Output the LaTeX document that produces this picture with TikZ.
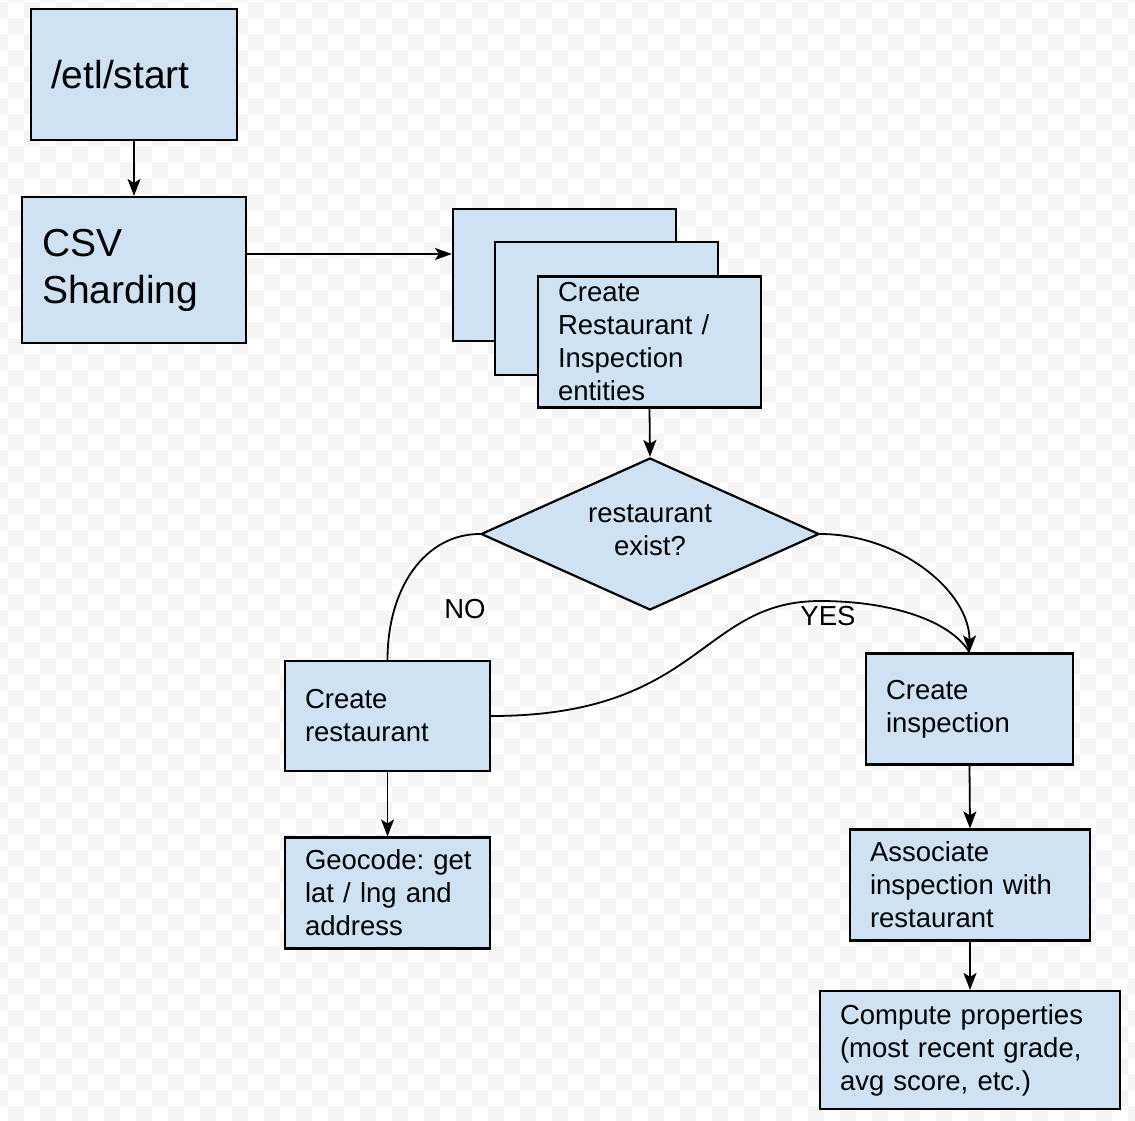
\documentclass[tikz,border=0pt]{standalone}
\usepackage{fontspec}
\setmainfont{Liberation Sans}
\usetikzlibrary{shapes.geometric,arrows.meta}
\definecolor{boxfill}{HTML}{CFE2F3}
\definecolor{checker}{HTML}{F4F4F4}
\begin{document}
\begin{tikzpicture}[x=1pt,y=-1pt,
  box/.style={draw=black, line width=2.2pt, fill=boxfill, rectangle, align=left,
    inner xsep=20pt, inner ysep=0pt, font=\fontsize{27.5}{33}\selectfont},
  bigbox/.style={box, font=\fontsize{39}{47}\selectfont},
  conn/.style={line width=1.8pt, -{Stealth[length=17pt,width=13pt,inset=4pt]}},
  thinconn/.style={line width=1.3pt, -{Stealth[length=17pt,width=12pt,inset=4pt]}},
  curve/.style={line width=1.8pt},
  lbl/.style={font=\fontsize{27.5}{33}\selectfont, inner sep=0pt}]
\useasboundingbox (0,0) rectangle (1135,1120);
% checkerboard background
\begin{scope}
  \clip (0,0) rectangle (1135,1120);
  \fill[white] (0,0) rectangle (1135,1120);
  \foreach \i in {0,...,71}{\foreach \j in {0,...,70}{%
    \pgfmathtruncatemacro\chk{mod(\i+\j,2)}%
    \ifnum\chk=1 \fill[checker] ({-8+16*\i},{-14+16*\j}) rectangle ++(16,16);\fi
  }}
\end{scope}

% nodes
\node[bigbox, text width=166pt, minimum height=131pt] (start) at (134,74.5) {/etl/start};
\node[bigbox, text width=184pt, minimum height=146pt] (csv) at (134,270) {CSV\\Sharding};
\node[box, text width=183pt, minimum height=132pt] (s1) at (564.5,275) {};
\node[box, text width=183pt, minimum height=133pt] (s2) at (606.5,308.5) {};
\node[box, text width=183pt, minimum height=131pt] (s3) at (649.5,342) {Create\\Restaurant~/\\Inspection\\entities};
\node[diamond, draw=black, line width=2.2pt, fill=boxfill, minimum width=338pt,
  minimum height=152pt, inner sep=0pt, aspect=2.22] (dia) at (650,534) {};
\node[align=center, inner sep=0pt, font=\fontsize{27.5}{33}\selectfont] (diatext) at (650,530) {restaurant\\exist?};
\node[box, text width=165pt, minimum height=110pt] (cr) at (387.5,716) {Create\\restaurant};
\node[box, text width=165pt, minimum height=111pt] (geo) at (387.5,893) {Geocode:~get\\lat~/~lng~and\\address};
\node[box, text width=167pt, minimum height=111pt] (ci) at (969.5,709) {Create\\inspection};
\node[box, text width=200pt, minimum height=111pt] (as) at (970,885) {Associate\\inspection~with\\restaurant};
\node[box, text width=260pt, minimum height=118pt] (cp) at (970,1050) {Compute~properties\\(most~recent~grade,\\avg~score,~etc.)};

\node[lbl] (no) at (465,609) {NO};
\node[lbl] (yes) at (828,616) {YES};

% connectors
\draw[conn] (start.south) -- (csv.north);
\coordinate (a1) at ([yshift=16pt]csv.east);
\draw[thinconn] (a1) -- (a1 -| s1.west);
\draw[conn] (s3.south) -- (dia.north);
\draw[curve] (dia.west) .. controls +(-55,0) and +(0,-72) .. (cr.north);
\draw[curve] (cr.east) .. controls +(210,0) and (700,601) .. (820,601)
  .. controls (890,601) and (950,620) .. (ci.north);
\draw[conn] (dia.east) .. controls +(78,0) and +(0,-62) .. (ci.north);
\draw[conn] (cr.south) -- (geo.north);
\draw[conn] (ci.south) -- (as.north);
\draw[conn] (as.south) -- (cp.north);
\end{tikzpicture}
\end{document}
